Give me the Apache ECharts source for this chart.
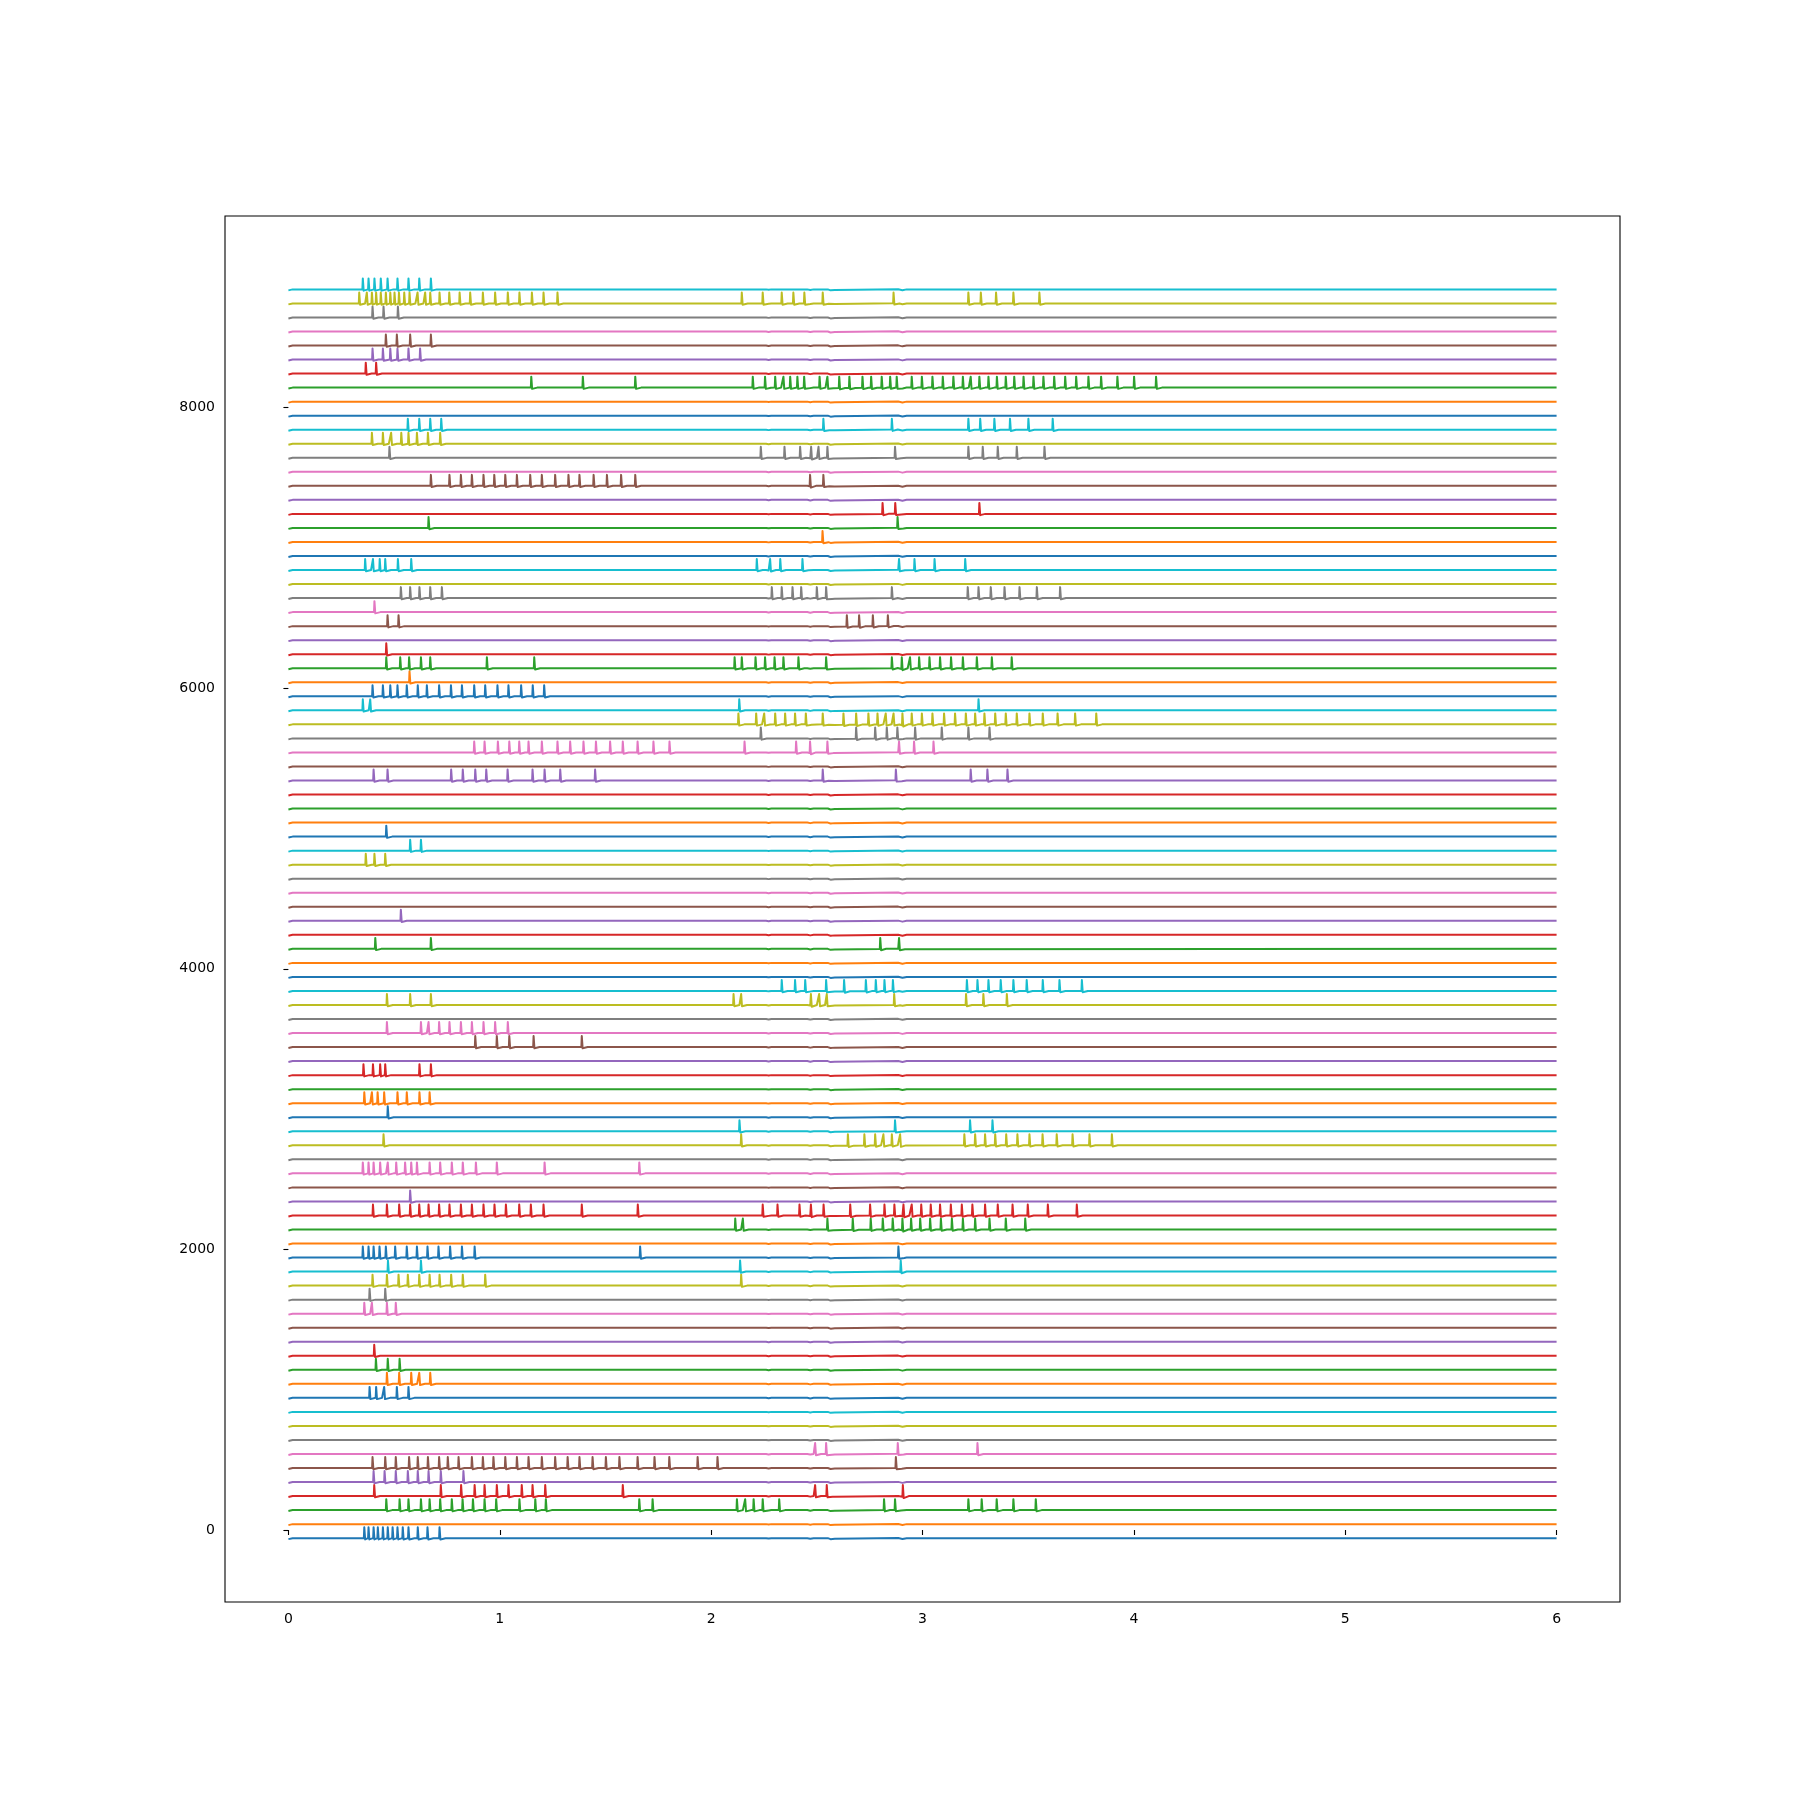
<!DOCTYPE html>
<html>
<head>
<meta charset="utf-8">
<script src="https://cdn.jsdelivr.net/npm/echarts@6/dist/echarts.min.js"></script>
<style>html,body{margin:0;padding:0;background:#fff;}#chart{width:1800px;height:1800px;}</style>
</head>
<body>
<div id="chart"></div>
<script>
// ---- tick labels ----
const xTickValues = [0, 1, 2, 3, 4, 5, 6];
const yTickValues = [0, 2000, 4000, 6000, 8000];

// ---- trace parameters (mV) ----
const traceSpacing = 100;
const restV = -58;
const peakV = 20;
const ahpDrop = 9;
const tEnd = 6;

// ---- shared sub-threshold baseline (time s, deviation from rest mV) ----
const baseKnotT = [0, 0.02, 2.26, 2.272, 2.285, 2.455, 2.469, 2.485, 2.552, 2.565, 2.585, 2.885, 2.905, 2.925, 6];
const baseKnotV = [-7, 0, 0, -3, 0, 0, -4, 0, 0, -7, -4, 1, -6, 0, 0];

// ---- spike times (s) per trace ----
const spk00 = [0.359, 0.379, 0.403, 0.423, 0.447, 0.470, 0.493, 0.516, 0.541, 0.568, 0.612, 0.658, 0.715];
const spk01 = [];
const spk02 = [0.463, 0.526, 0.568, 0.627, 0.668, 0.718, 0.773, 0.824, 0.873, 0.928, 0.983, 1.093, 1.168, 1.218, 1.660, 1.723, 2.122, 2.161, 2.201, 2.244, 2.322, 2.818, 2.870, 3.217, 3.280, 3.351, 3.430, 3.536];
const spk03 = [0.406, 0.721, 0.817, 0.881, 0.928, 0.986, 1.041, 1.104, 1.155, 1.215, 1.582, 2.492, 2.547, 2.907];
const spk04 = [0.403, 0.455, 0.508, 0.565, 0.612, 0.663, 0.721, 0.828];
const spk05 = [0.398, 0.458, 0.508, 0.571, 0.612, 0.660, 0.713, 0.754, 0.805, 0.868, 0.920, 0.970, 1.026, 1.081, 1.136, 1.199, 1.262, 1.321, 1.377, 1.439, 1.502, 1.566, 1.652, 1.732, 1.802, 1.936, 2.030, 2.874];
const spk06 = [2.492, 2.544, 2.883, 3.260];
const spk07 = [];
const spk08 = [];
const spk09 = [];
const spk10 = [0.384, 0.415, 0.453, 0.513, 0.568];
const spk11 = [0.466, 0.524, 0.581, 0.619, 0.671];
const spk12 = [0.414, 0.470, 0.526];
const spk13 = [0.406];
const spk14 = [];
const spk15 = [];
const spk16 = [0.359, 0.395, 0.466, 0.508];
const spk17 = [0.384, 0.458];
const spk18 = [0.398, 0.466, 0.521, 0.565, 0.619, 0.668, 0.715, 0.770, 0.825, 0.931, 2.142];
const spk19 = [0.471, 0.627, 2.137, 2.897];
const spk20 = [0.352, 0.379, 0.403, 0.431, 0.461, 0.505, 0.560, 0.608, 0.658, 0.710, 0.765, 0.821, 0.881, 1.664, 2.886];
const spk21 = [];
const spk22 = [2.114, 2.150, 2.550, 2.670, 2.755, 2.812, 2.859, 2.905, 2.946, 2.989, 3.036, 3.087, 3.139, 3.191, 3.249, 3.317, 3.394, 3.486];
const spk23 = [0.400, 0.466, 0.524, 0.576, 0.619, 0.663, 0.713, 0.762, 0.816, 0.868, 0.923, 0.975, 1.029, 1.092, 1.147, 1.207, 1.388, 1.653, 2.244, 2.314, 2.418, 2.472, 2.532, 2.658, 2.752, 2.820, 2.867, 2.910, 2.949, 2.994, 3.039, 3.083, 3.134, 3.186, 3.236, 3.296, 3.356, 3.426, 3.498, 3.593, 3.730];
const spk24 = [0.576];
const spk25 = [];
const spk26 = [0.352, 0.379, 0.403, 0.434, 0.470, 0.510, 0.552, 0.581, 0.608, 0.668, 0.718, 0.773, 0.825, 0.887, 0.986, 1.212, 1.660];
const spk27 = [];
const spk28 = [0.450, 2.142, 2.647, 2.725, 2.776, 2.815, 2.855, 2.894, 3.198, 3.249, 3.296, 3.344, 3.396, 3.449, 3.506, 3.568, 3.635, 3.710, 3.790, 3.896];
const spk29 = [2.134, 2.870, 3.225, 3.331];
const spk30 = [0.470];
const spk31 = [0.359, 0.395, 0.422, 0.453, 0.516, 0.560, 0.620, 0.668];
const spk32 = [];
const spk33 = [0.355, 0.400, 0.434, 0.458, 0.620, 0.674];
const spk34 = [];
const spk35 = [0.884, 0.986, 1.045, 1.160, 1.388];
const spk36 = [0.466, 0.627, 0.663, 0.713, 0.762, 0.816, 0.868, 0.923, 0.978, 1.038];
const spk37 = [];
const spk38 = [0.466, 0.576, 0.674, 2.106, 2.142, 2.472, 2.511, 2.547, 2.866, 3.206, 3.288, 3.399];
const spk39 = [2.334, 2.397, 2.445, 2.544, 2.629, 2.732, 2.779, 2.820, 2.860, 3.210, 3.260, 3.312, 3.370, 3.430, 3.493, 3.569, 3.648, 3.754];
const spk40 = [];
const spk41 = [];
const spk42 = [0.411, 0.674, 2.800, 2.889];
const spk43 = [];
const spk44 = [0.532];
const spk45 = [];
const spk46 = [];
const spk47 = [];
const spk48 = [0.366, 0.407, 0.458];
const spk49 = [0.576, 0.627];
const spk50 = [0.463];
const spk51 = [];
const spk52 = [];
const spk53 = [];
const spk54 = [0.403, 0.469, 0.770, 0.825, 0.884, 0.936, 1.037, 1.155, 1.212, 1.286, 1.451, 2.528, 2.874, 3.228, 3.307, 3.402];
const spk55 = [];
const spk56 = [0.879, 0.928, 0.991, 1.045, 1.092, 1.136, 1.199, 1.273, 1.333, 1.396, 1.455, 1.522, 1.582, 1.652, 1.727, 1.803, 2.158, 2.402, 2.468, 2.550, 2.889, 2.960, 3.052];
const spk57 = [2.235, 2.686, 2.776, 2.831, 2.881, 2.965, 3.091, 3.217, 3.317];
const spk58 = [2.129, 2.213, 2.251, 2.303, 2.350, 2.397, 2.448, 2.528, 2.626, 2.686, 2.744, 2.787, 2.826, 2.863, 2.905, 2.949, 2.997, 3.047, 3.102, 3.154, 3.205, 3.249, 3.293, 3.344, 3.394, 3.446, 3.506, 3.569, 3.639, 3.722, 3.822];
const spk59 = [0.352, 0.387, 2.133, 3.265];
const spk60 = [0.398, 0.447, 0.482, 0.516, 0.560, 0.612, 0.655, 0.713, 0.769, 0.821, 0.879, 0.931, 0.989, 1.041, 1.101, 1.156, 1.210];
const spk61 = [0.573];
const spk62 = [0.463, 0.529, 0.571, 0.627, 0.671, 0.939, 1.163, 2.111, 2.145, 2.210, 2.255, 2.300, 2.342, 2.413, 2.544, 2.855, 2.902, 2.941, 2.984, 3.033, 3.083, 3.135, 3.191, 3.257, 3.328, 3.422];
const spk63 = [0.463];
const spk64 = [];
const spk65 = [0.469, 0.521, 2.642, 2.700, 2.765, 2.836];
const spk66 = [0.407];
const spk67 = [0.532, 0.576, 0.620, 0.671, 0.726, 2.287, 2.334, 2.385, 2.426, 2.500, 2.544, 2.855, 3.214, 3.265, 3.323, 3.388, 3.459, 3.541, 3.651];
const spk68 = [];
const spk69 = [0.363, 0.400, 0.432, 0.458, 0.518, 0.581, 2.216, 2.279, 2.327, 2.432, 2.889, 2.962, 3.057, 3.202];
const spk70 = [];
const spk71 = [2.527];
const spk72 = [0.663, 2.882];
const spk73 = [2.811, 2.871, 3.269];
const spk74 = [];
const spk75 = [0.674, 0.762, 0.816, 0.868, 0.923, 0.974, 1.026, 1.081, 1.144, 1.199, 1.262, 1.325, 1.377, 1.444, 1.507, 1.574, 1.641, 2.468, 2.531];
const spk76 = [];
const spk77 = [0.478, 2.235, 2.347, 2.421, 2.473, 2.508, 2.550, 2.870, 3.217, 3.285, 3.356, 3.446, 3.577];
const spk78 = [0.395, 0.447, 0.486, 0.534, 0.568, 0.608, 0.660, 0.718];
const spk79 = [0.565, 0.619, 0.671, 0.723, 2.531, 2.855, 3.217, 3.273, 3.340, 3.414, 3.501, 3.616];
const spk80 = [];
const spk81 = [];
const spk82 = [1.149, 1.393, 1.641, 2.197, 2.255, 2.303, 2.342, 2.374, 2.408, 2.440, 2.513, 2.550, 2.606, 2.654, 2.716, 2.757, 2.807, 2.847, 2.878, 2.949, 2.997, 3.047, 3.096, 3.146, 3.191, 3.228, 3.269, 3.312, 3.352, 3.394, 3.434, 3.478, 3.525, 3.572, 3.623, 3.675, 3.727, 3.785, 3.845, 3.922, 4.001, 4.105];
const spk83 = [0.366, 0.415];
const spk84 = [0.398, 0.447, 0.482, 0.516, 0.568, 0.623];
const spk85 = [0.461, 0.513, 0.576, 0.674];
const spk86 = [];
const spk87 = [0.398, 0.450, 0.518];
const spk88 = [0.335, 0.371, 0.395, 0.415, 0.437, 0.461, 0.482, 0.502, 0.523, 0.548, 0.573, 0.611, 0.647, 0.671, 0.715, 0.761, 0.810, 0.860, 0.920, 0.978, 1.038, 1.093, 1.152, 1.207, 1.273, 2.145, 2.244, 2.334, 2.389, 2.441, 2.528, 2.863, 3.217, 3.276, 3.348, 3.430, 3.553];
const spk89 = [0.352, 0.379, 0.407, 0.437, 0.469, 0.516, 0.568, 0.619, 0.674];

const spikeTrains = [
  spk00, spk01, spk02, spk03, spk04, spk05, spk06, spk07, spk08, spk09,
  spk10, spk11, spk12, spk13, spk14, spk15, spk16, spk17, spk18, spk19,
  spk20, spk21, spk22, spk23, spk24, spk25, spk26, spk27, spk28, spk29,
  spk30, spk31, spk32, spk33, spk34, spk35, spk36, spk37, spk38, spk39,
  spk40, spk41, spk42, spk43, spk44, spk45, spk46, spk47, spk48, spk49,
  spk50, spk51, spk52, spk53, spk54, spk55, spk56, spk57, spk58, spk59,
  spk60, spk61, spk62, spk63, spk64, spk65, spk66, spk67, spk68, spk69,
  spk70, spk71, spk72, spk73, spk74, spk75, spk76, spk77, spk78, spk79,
  spk80, spk81, spk82, spk83, spk84, spk85, spk86, spk87, spk88, spk89
];

const palette = ['#1f77b4','#ff7f0e','#2ca02c','#d62728','#9467bd','#8c564b','#e377c2','#7f7f7f','#bcbd22','#17becf'];

// baseline deviation at time t (linear between the read knots)
function baseAt(t) {
  for (let k = 1; k < baseKnotT.length; k++) {
    if (t <= baseKnotT[k]) {
      const t0 = baseKnotT[k - 1], t1 = baseKnotT[k];
      const f = (t - t0) / (t1 - t0);
      return baseKnotV[k - 1] + f * (baseKnotV[k] - baseKnotV[k - 1]);
    }
  }
  return baseKnotV[baseKnotV.length - 1];
}

const series = spikeTrains.map(function (spk, i) {
  const off = i * traceSpacing;
  const pts = [];
  // baseline knots, skipping those hidden inside a spike
  baseKnotT.forEach(function (t, k) {
    const inside = spk.some(function (s) { return t > s - 0.003 && t < s + 0.03; });
    if (!inside) pts.push([t, off + restV + baseKnotV[k]]);
  });
  spk.forEach(function (t, k) {
    const next = k + 1 < spk.length ? spk[k + 1] : tEnd;
    const b = restV + baseAt(t);
    pts.push([t - 0.002, off + b]);
    pts.push([t, off + peakV]);
    pts.push([t + 0.004, off + b - ahpDrop]);
    if (next - t > 0.035) pts.push([t + 0.028, off + restV + baseAt(t + 0.028)]);
  });
  pts.sort(function (a, b) { return a[0] - b[0]; });
  const c = palette[i % palette.length];
  return {
    type: 'line',
    data: pts,
    symbol: 'none',
    showSymbol: false,
    silent: true,
    animation: false,
    lineStyle: { width: 2, color: c, join: 'round' },
    itemStyle: { color: c },
    z: 2
  };
});

const chart = echarts.init(document.getElementById('chart'), null, { renderer: 'canvas' });
chart.setOption({
  animation: false,
  backgroundColor: '#ffffff',
  grid: {
    left: 225, right: 180, top: 216, bottom: 198,
    show: true, borderColor: '#000000', borderWidth: 1.1,
    containLabel: false, outerBoundsMode: 'none'
  },
  xAxis: {
    type: 'value', min: -0.3, max: 6.3,
    axisLine: { show: false },
    splitLine: { show: false },
    axisTick: { show: true, length: 5, inside: false, customValues: xTickValues, lineStyle: { color: '#000', width: 1.1 } },
    axisLabel: { show: true, margin: 10, customValues: xTickValues, color: '#000', fontSize: 14, fontFamily: 'DejaVu Sans', formatter: function (v) { return String(v); } }
  },
  yAxis: {
    type: 'value', min: -513, max: 9365,
    axisLine: { show: false },
    splitLine: { show: false },
    axisTick: { show: true, length: 5, inside: false, customValues: yTickValues, lineStyle: { color: '#000', width: 1.1 } },
    axisLabel: { show: true, margin: 10, customValues: yTickValues, color: '#000', fontSize: 14, fontFamily: 'DejaVu Sans', formatter: function (v) { return String(v); } }
  },
  series: series
});
</script>
</body>
</html>
